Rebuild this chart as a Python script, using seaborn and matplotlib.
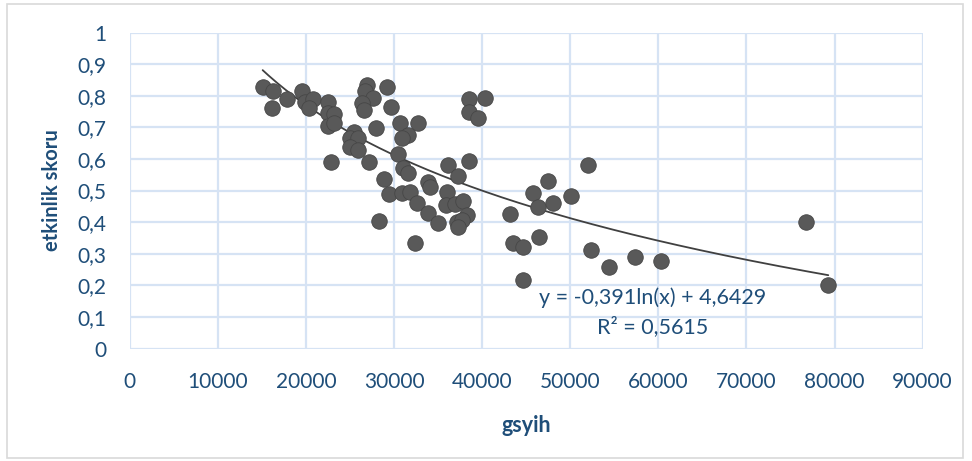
import matplotlib
matplotlib.use("Agg")
import matplotlib.pyplot as plt
import matplotlib.patches as patches
from matplotlib.ticker import FuncFormatter, MultipleLocator
import numpy as np
import pandas as pd
import seaborn as sns

# values
gsyih = [
    15085, 16220, 16107, 17810, 19546, 19920, 20760, 20375, 22530, 22530,
    23210, 22530, 23210, 25480, 24990, 25940, 24990, 25940, 22840, 27150,
    27910, 26890, 26700, 27640, 26320, 26620, 29190, 29610, 30670, 32750,
    31610, 30860, 30480, 31040, 31610, 28890, 29460, 30860, 31810, 32570,
    33880, 34070, 33810, 35020, 32330, 28290, 35970, 35860, 36910, 37860,
    38240, 37100, 37670, 37290, 36150, 38540, 37290, 38540, 40350, 38540,
    39560, 43160, 43530, 44670, 44600, 45800, 46370, 46480, 47500, 48000,
    50040, 51970, 52400, 54360, 57310, 60260, 76750, 79290,
]
skor = [
    0.827, 0.816, 0.762, 0.790, 0.815, 0.781, 0.790, 0.760, 0.779, 0.744,
    0.741, 0.705, 0.713, 0.686, 0.667, 0.665, 0.639, 0.628, 0.591, 0.589,
    0.699, 0.834, 0.815, 0.792, 0.776, 0.755, 0.829, 0.763, 0.713, 0.713,
    0.676, 0.665, 0.617, 0.570, 0.554, 0.536, 0.488, 0.491, 0.496, 0.461,
    0.528, 0.510, 0.430, 0.398, 0.333, 0.404, 0.496, 0.454, 0.457, 0.468,
    0.422, 0.401, 0.407, 0.385, 0.581, 0.594, 0.546, 0.790, 0.792, 0.747,
    0.728, 0.425, 0.333, 0.322, 0.217, 0.493, 0.449, 0.352, 0.531, 0.459,
    0.483, 0.582, 0.312, 0.259, 0.289, 0.278, 0.399, 0.201,
]

# logarithmic trend line as printed on the chart
trend_slope = -0.391
trend_intercept = 4.6429
r_squared = 0.5615

df = pd.DataFrame({"gsyih": gsyih, "skor": skor})

sns.set_theme(style="white")
plt.rcParams["font.family"] = ["Lato", "DejaVu Sans"]

text_color = "#1F4E79"
grid_color = "#D6E3F4"

fig = plt.figure(figsize=(9.72, 4.61), dpi=100)
ax = fig.add_axes([0.1335, 0.244, 0.8157, 0.6855])

# light frame around the whole chart area
fig.patches.append(patches.Rectangle(
    (7 / 972, 3 / 461), 956 / 972, 454 / 461, transform=fig.transFigure,
    fill=False, edgecolor="#D9D9D9", linewidth=1.2))

sns.scatterplot(data=df, x="gsyih", y="skor", ax=ax, s=125,
                color="#595959", edgecolor="#474747", linewidth=0.6, zorder=3)

xs = np.linspace(df["gsyih"].min(), df["gsyih"].max(), 200)
trend = pd.DataFrame({"x": xs, "y": trend_slope * np.log(xs) + trend_intercept})
sns.lineplot(data=trend, x="x", y="y", ax=ax, color="#404040",
             linewidth=1.3, zorder=2)

ax.set_xlim(0, 90000)
ax.set_ylim(0, 1)
ax.xaxis.set_major_locator(MultipleLocator(10000))
ax.yaxis.set_major_locator(MultipleLocator(0.1))
ax.yaxis.set_major_formatter(FuncFormatter(
    lambda v, p: f"{v:g}" if v in (0, 1) else f"{v:.1f}".replace(".", ",")))
ax.xaxis.set_major_formatter(FuncFormatter(lambda v, p: f"{v:.0f}"))

ax.grid(True, color=grid_color, linewidth=1.6)
ax.set_axisbelow(True)
for sp in ax.spines.values():
    sp.set_visible(False)
ax.tick_params(axis="both", length=0, labelsize=15, labelcolor=text_color)
ax.tick_params(axis="y", pad=17)
ax.tick_params(axis="x", pad=17)

ax.set_xlabel("gsyih", fontsize=15.5, fontweight="bold", color=text_color)
ax.set_ylabel("etkinlik skoru", fontsize=14.5, fontweight="bold", color=text_color)
ax.xaxis.set_label_coords(0.5, -0.21)
ax.yaxis.set_label_coords(-0.086, 0.5)

eq = f"y = {trend_slope:.3f}ln(x) + {trend_intercept:.4f}".replace(".", ",")
ax.text(0.659, 0.16, eq, transform=ax.transAxes, ha="center", va="center",
        fontsize=15.5, color=text_color)
ax.text(0.659, 0.068, f"R² = {r_squared:.4f}".replace(".", ","),
        transform=ax.transAxes, ha="center", va="center",
        fontsize=15.5, color=text_color)

fig.savefig("out.png", dpi=100)
